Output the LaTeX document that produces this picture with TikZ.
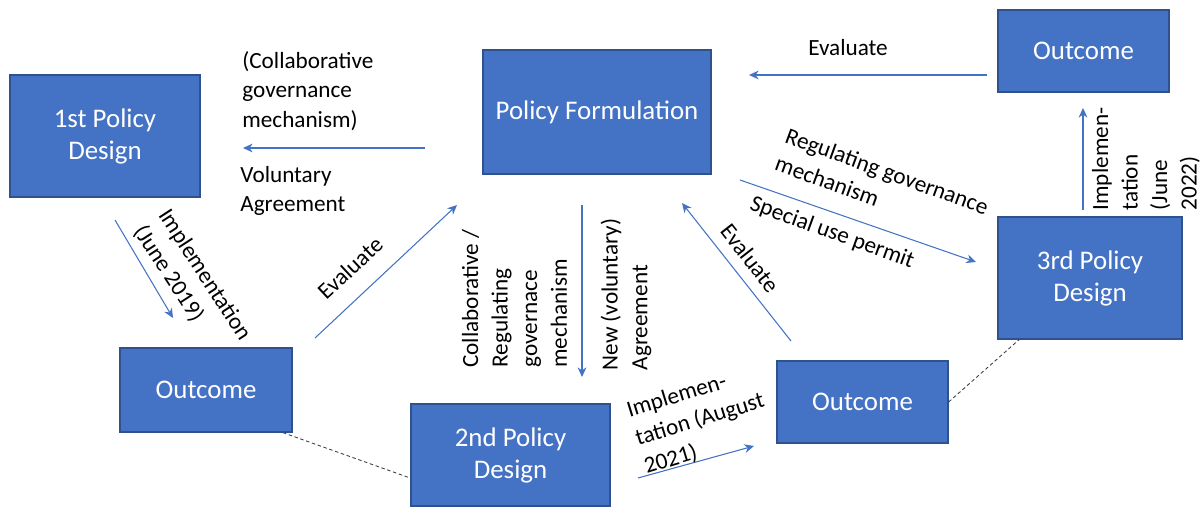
\documentclass[tikz,border=0pt]{standalone}
\usepackage{fontspec}
\setmainfont{Carlito}
\usepackage{tikz}
\usetikzlibrary{arrows.meta, positioning, calc}
\usepackage{xcolor}

\definecolor{boxblue}{HTML}{4472C4}
\definecolor{boxedge}{HTML}{2F528F}

\begin{document}
\begin{tikzpicture}[
        >={Stealth[length=5.5pt,width=5pt]},
        box/.style={rectangle, draw=boxedge, line width=0.7pt, fill=boxblue, text=white, align=center, font=\fontsize{15.3}{18.2}\selectfont},
        flow/.style={->, draw=boxblue, line width=0.6pt},
        link/.style={draw=black!75, dashed, line width=0.5pt, dash pattern=on 2pt off 1.5pt},
        lbl/.style={align=left, inner sep=0pt, font=\fontsize{13.2}{16.8}\selectfont}
    ]
        \useasboundingbox (0,0) rectangle (24.02,10.16);

        % Policy stages
        \node[box, minimum width=3.8cm, minimum height=2.44cm] (d1) at (2.10, 7.44) {1st Policy\\Design};
        \node[box, minimum width=4.56cm, minimum height=2.48cm] (pf) at (11.94, 7.92) {Policy Formulation};
        \node[box, minimum width=3.98cm, minimum height=2.04cm] (d2) at (10.21, 1.06) {2nd Policy\\Design};
        \node[box, minimum width=3.68cm, minimum height=2.44cm] (d3) at (21.80, 4.60) {3rd Policy\\Design};

        % Outcomes
        \node[box, minimum width=3.44cm, minimum height=1.68cm] (o1) at (4.12, 2.36) {Outcome};
        \node[box, minimum width=3.42cm, minimum height=1.64cm] (o2) at (17.25, 2.12) {Outcome};
        \node[box, minimum width=3.42cm, minimum height=1.64cm] (o3) at (21.67, 9.14) {Outcome};

        % Arrow ends
        \coordinate (pfL) at (8.50, 7.20);  \coordinate (d1R) at (4.86, 7.20);
        \coordinate (d1B) at (2.30, 5.76);  \coordinate (o1T) at (3.46, 3.80);
        \coordinate (o1R) at (6.30, 3.40);  \coordinate (pfBL) at (9.14, 6.06);
        \coordinate (pfB) at (11.64, 6.06); \coordinate (d2T) at (11.64, 2.62);
        \coordinate (o2T) at (15.82, 3.34); \coordinate (pfBR) at (13.64, 6.10);
        \coordinate (d2R) at (12.76, 0.60); \coordinate (o2L) at (15.08, 1.24);
        \coordinate (pfR) at (14.80, 6.56); \coordinate (d3L) at (19.52, 4.92);
        \coordinate (d3T) at (21.66, 5.96); \coordinate (o3B) at (21.66, 8.00);
        \coordinate (o3L) at (19.74, 8.66); \coordinate (pfTR) at (14.98, 8.66);

        % Flows
        \draw[flow] (pfL) -- (d1R);
        \draw[flow] (d1B) -- (o1T);
        \draw[flow] (o1R) -- (pfBL);
        \draw[flow] (pfB) -- (d2T);
        \draw[flow] (o2T) -- (pfBR);
        \draw[flow] (d2R) -- (o2L);
        \draw[flow] (pfR) -- (d3L);
        \draw[flow] (d3T) -- (o3B);
        \draw[flow] (o3L) -- (pfTR);

        % Outcome to next design
        \draw[link] (o1.-29) -- (d2.193);
        \draw[link] (o2.east) -- (d3.221);

        % Labels
        \node[lbl, anchor=north west] (collab) at (4.84, 9.14) {(Collaborative\\governance\\mechanism)};
        \node[lbl, anchor=north west] (volunt) at (4.80, 6.84) {Voluntary\\Agreement};
        \node[lbl, rotate=-57] (impl1) at (3.84, 4.50) {Implementation\\(June 2019)};
        \node[lbl, rotate=43] (eval1) at (7.00, 4.80) {Evaluate};
        \node[lbl, rotate=90] (mech2) at (10.29, 4.19) {Collaborative /\\Regulating\\governace\\mechanism};
        \node[lbl, rotate=90] (agree2) at (12.52, 4.27) {New (voluntary)\\Agreement};
        \node[lbl, rotate=-52] (eval2) at (15.00, 5.00) {Evaluate};
        \node[lbl, rotate=17] (impl2) at (14.00, 1.76) {Implemen-\\tation (August\\2021)};
        \node[lbl, rotate=-20] (mech3) at (17.64, 6.46) {Regulating governance\\mechanism};
        \node[lbl, rotate=-20] (permit) at (16.64, 5.50) {Special use permit};
        \node[lbl, rotate=90] (impl3) at (22.92, 6.98) {Implemen-\\tation\\(June\\2022)};
        \node[lbl] (eval3) at (16.96, 9.20) {Evaluate};

    \end{tikzpicture}
\end{document}
